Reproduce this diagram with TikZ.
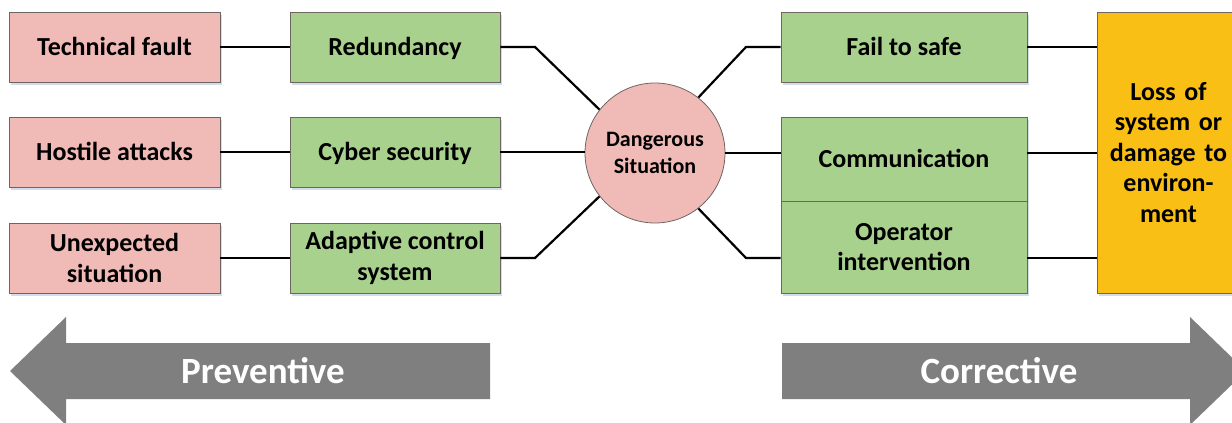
\documentclass[tikz,border=0pt]{standalone}
\usepackage{fontspec}
\setmainfont{Carlito}
\usetikzlibrary{shadows}
\definecolor{pinkfill}{HTML}{F0BAB7}
\definecolor{greenfill}{HTML}{A9D18E}
\definecolor{orangefill}{HTML}{F9BF14}
\definecolor{arrowgray}{HTML}{7F7F7F}
\definecolor{boxline}{HTML}{6E6462}
\definecolor{shadowcol}{HTML}{C9D3E6}
\begin{document}
\begin{tikzpicture}[x=1pt,y=-1pt,
  box/.style={draw=boxline, line width=0.8pt, inner sep=0pt, align=center,
    font=\fontsize{26}{30.5}\selectfont\bfseries,
    drop shadow={fill=shadowcol, opacity=0.8, shadow xshift=1.5pt, shadow yshift=-2.5pt}},
  oneline/.style={text height=21pt, text depth=4pt},
  cause/.style={box, fill=pinkfill, minimum width=211pt, minimum height=70pt},
  barrier/.style={box, fill=greenfill, minimum width=210pt, minimum height=70pt},
  rbarrier/.style={box, fill=greenfill, minimum width=246pt},
  link/.style={line width=2.2pt, black},
  bigarrow/.style={fill=arrowgray, draw=none},
  arrowtext/.style={text=white, font=\fontsize{37}{42}\selectfont\bfseries},
]
\useasboundingbox (0,0) rectangle (1232,423);
\clip (0,0) rectangle (1232,423);

% left causes
\node[cause, oneline] (tf) at (114.5,47) {Technical fault};
\node[cause, oneline] (ha) at (114.5,152) {Hostile attacks};
\node[cause] (us) at (114.5,258) {Unexpected\\situation};
% left barriers
\node[barrier, oneline] (red) at (395,47) {Redundancy};
\node[barrier, oneline] (cyb) at (395,152) {Cyber security};
\node[barrier] (acs) at (395,258) {Adaptive control\\system};
% centre
\node[circle, draw=boxline, line width=0.8pt, fill=pinkfill, minimum size=140pt, inner sep=0pt,
  align=center, font=\fontsize{22}{27}\selectfont\bfseries] (ds) at (655,153) {Dangerous\\Situation};
% right barriers
\node[rbarrier, oneline, minimum height=70pt] (fs) at (904,47) {Fail to safe};
\node[rbarrier, oneline, minimum height=84pt] (com) at (904,159) {Communication};
\node[rbarrier, minimum height=92pt] (op) at (904,247) {Operator\\intervention};
% consequence
\node[box, fill=orangefill, minimum width=143pt, minimum height=281pt, text width=130pt] (loss) at (1168.5,152.5)
  {Loss of\\system or\\damage to\\environ-\\ment};

% connectors
\coordinate (lt) at (535,47);
\coordinate (lb) at (535,258);
\coordinate (rt) at (746,47);
\coordinate (rb) at (746,258);
\draw[link] (tf.east) -- (red.west);
\draw[link] (ha.east) -- (cyb.west);
\draw[link] (us.east) -- (acs.west);
\draw[link] (red.east) -- (lt) -- (ds.142);
\draw[link] (cyb.east) -- (cyb.east -| ds.west);
\draw[link] (acs.east) -- (lb) -- (ds.218);
\draw[link] (ds.52) -- (rt) -- (fs.west);
\draw[link] (ds.east) -- (ds.east -| com.west);
\draw[link] (ds.308) -- (rb) -- (rb -| op.west);
\draw[link] (fs.east) -- (fs.east -| loss.west);
\draw[link] (ds.east -| com.east) -- (ds.east -| loss.west);
\draw[link] (rb -| op.east) -- (rb -| loss.west);

% direction arrows
\fill[bigarrow] (10,371) -- (66,317) -- (66,343) -- (490,343) -- (490,399) -- (66,399) -- (66,425) -- cycle;
\node[arrowtext] (prev) at (263,371) {Preventive};
\fill[bigarrow] (782,343) -- (1190,343) -- (1190,317) -- (1246,371) -- (1190,425) -- (1190,399) -- (782,399) -- cycle;
\node[arrowtext] (corr) at (999,371) {Corrective};
\end{tikzpicture}
\end{document}
